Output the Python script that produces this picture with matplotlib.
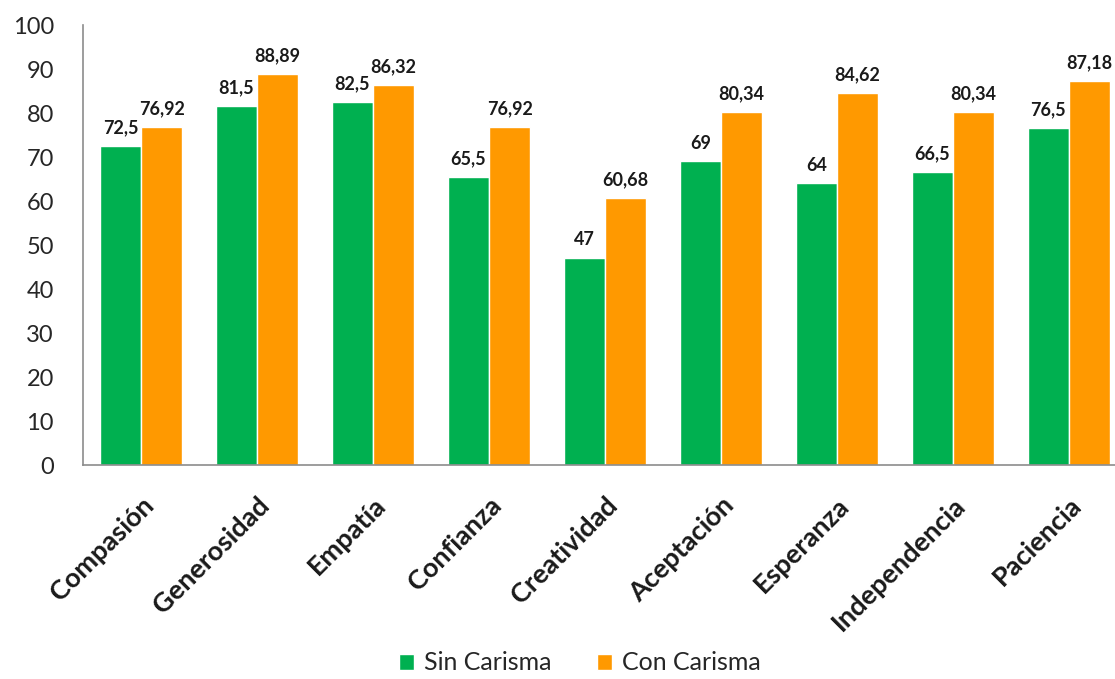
import numpy as np
import matplotlib
matplotlib.use('Agg')
import matplotlib.pyplot as plt

plt.rcParams['font.family'] = ['Lato', 'DejaVu Sans']

categorias = ['Compasión', 'Generosidad', 'Empatía', 'Confianza', 'Creatividad',
              'Aceptación', 'Esperanza', 'Independencia', 'Paciencia']
sin_carisma = [72.5, 81.5, 82.5, 65.5, 47, 69, 64, 66.5, 76.5]
con_carisma = [76.92, 88.89, 86.32, 76.92, 60.68, 80.34, 84.62, 80.34, 87.18]

verde = '#00B050'
naranja = '#FF9900'

fig = plt.figure(figsize=(11.15, 6.79), dpi=100)
# the axes run past the right edge, as in the cropped original
ax = fig.add_axes([83/1115, 214/679, 1044/1115, 440/679])

x = np.arange(len(categorias))
w = 0.355
b1 = ax.bar(x - w/2, sin_carisma, w, color=verde, edgecolor='white', linewidth=1, label='Sin Carisma')
b2 = ax.bar(x + w/2, con_carisma, w, color=naranja, edgecolor='white', linewidth=1, label='Con Carisma')

def etiqueta(v):
    return f'{v:g}'.replace('.', ',')

for barras, vals in [(b1, sin_carisma), (b2, con_carisma)]:
    for r, v in zip(barras, vals):
        ax.annotate(etiqueta(v), (r.get_x() + r.get_width()/2, v),
                    xytext=(0, 7), textcoords='offset points',
                    ha='center', va='bottom', fontsize=13, fontweight='bold',
                    color='#1a1a1a', clip_on=False)

ax.set_xlim(-0.5, 8.5)
ax.set_ylim(0, 100)
ax.set_yticks(range(0, 101, 10))
ax.tick_params(axis='y', length=0, pad=21, labelsize=17, labelcolor='#262626')
ax.set_xticks(x)
ax.set_xticklabels(categorias, rotation=45, ha='right', rotation_mode='anchor',
                   fontsize=19.5, fontweight='bold', color='#1a1a1a')
ax.tick_params(axis='x', length=0, pad=20)

for s in ['top', 'right']:
    ax.spines[s].set_visible(False)
for s in ['left', 'bottom']:
    ax.spines[s].set_color('#8c8c8c')
    ax.spines[s].set_linewidth(1.2)

fig.legend(loc='center', bbox_to_anchor=(580/1115, 1 - 663/679), ncol=2,
           frameon=False, fontsize=18, handlelength=0.6, handleheight=0.6,
           handletextpad=0.4, columnspacing=1.8, labelcolor='#262626')

fig.savefig('out.png', dpi=100)
